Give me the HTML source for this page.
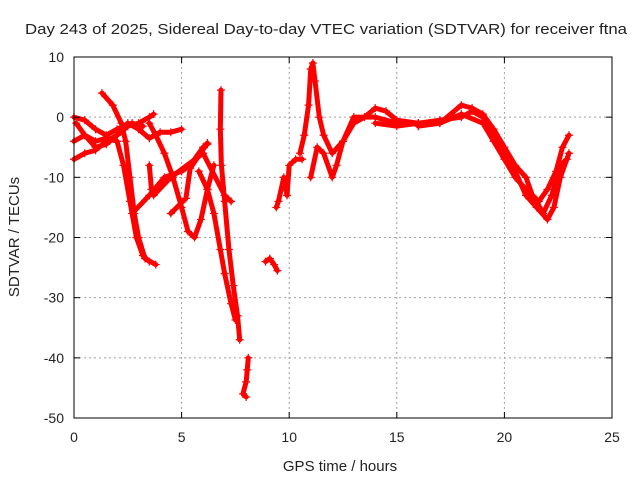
<!DOCTYPE html>
<html><head><meta charset="utf-8"><style>
body{margin:0;background:#fff}
svg text{font-family:"Liberation Sans",sans-serif;font-size:14px;fill:#222}
svg text.big{font-size:15px}
</style></head><body>
<svg width="640" height="480" id="chart" xmlns="http://www.w3.org/2000/svg">
<rect width="640" height="480" fill="#fff"/>
<text class="big" x="326" y="34" text-anchor="middle" textLength="602" lengthAdjust="spacingAndGlyphs">Day 243 of 2025, Sidereal Day-to-day VTEC variation (SDTVAR) for receiver ftna</text>
<text class="big" x="340" y="471" text-anchor="middle">GPS time / hours</text>
<text class="big" transform="translate(19,237) rotate(-90)" text-anchor="middle">SDTVAR / TECUs</text>
<g id="grid"></g><g id="marks"></g><g id="axes"></g>
</svg>
<script>
const xTicks=[0,5,10,15,20,25];
const yTicks=[10,0,-10,-20,-30,-40,-50];
const track1=[[1.3,4],[1.8,2],[2.2,-1],[2.4,-4],[2.6,-10],[2.8,-16],[3.0,-20],[3.3,-23.5],[3.8,-24.5]];
const track2=[[0,-4],[0.5,-3],[1,-4],[1.5,-3.5],[2,-4],[2.3,-8],[2.6,-14],[2.9,-20],[3.2,-23],[3.5,-24]];
const track3=[[0,-7],[0.5,-6],[1,-5.5],[1.5,-4],[2,-3],[2.5,-1.5],[3,-1],[3.5,0],[3.7,0.5]];
const track4=[[0.1,-1],[0.5,-3],[1,-5],[1.5,-4.5],[2,-3],[2.5,-1],[3,-2],[3.5,-3.5],[4,-2.5],[4.5,-2.5],[5,-2]];
const track5=[[0,0],[0.5,-0.5],[1,-2],[1.5,-3],[2,-2],[2.7,-1],[3.2,-1.5]];
const track6=[[3.5,-1],[3.8,-3],[4.2,-6],[4.6,-10],[5,-15],[5.3,-19],[5.6,-20],[5.9,-17],[6.2,-12],[6.5,-8]];
const track7=[[2.7,-16],[3.5,-13],[4.2,-10],[5,-9],[5.4,-8],[6,-5],[6.2,-4.5]];
const track8=[[4.5,-16],[5.2,-13.5],[5.4,-8.5],[6.2,-4.3]];
const track9=[[3.5,-8],[3.6,-12],[3.7,-13],[4.5,-10],[6,-6],[7,-13],[7.3,-14]];
const track10=[[6.83,4.5],[6.8,-2],[6.85,-8],[7,-14],[7.2,-22],[7.4,-28],[7.6,-33],[7.7,-37]];
const track11=[[5.8,-9],[6.2,-12],[6.5,-16],[6.8,-22],[7.0,-26],[7.3,-31],[7.5,-33.7]];
const track12=[[8.1,-40],[8.05,-42],[8,-44],[7.85,-46],[8,-46.5]];
const track13=[[8.9,-24],[9.1,-23.5],[9.3,-24.5],[9.45,-25.5]];
const track14=[[9.4,-15],[9.5,-14],[9.75,-10],[9.9,-13],[10,-8],[10.3,-7],[10.6,-7]];
const track15=[[10.5,-6],[10.7,-3],[10.9,2],[11,8],[11.1,9],[11.2,6],[11.4,0],[11.6,-3],[12,-6],[12.5,-4],[13,-1],[13.5,0],[14,1.5],[14.5,1],[15,-0.5],[16,-1]];
const track16=[[11,-10],[11.3,-5],[11.6,-6],[12,-10],[12.2,-8],[12.5,-4],[13,0],[14,0],[15,-1],[16,-1],[17,-0.5],[18,0],[18.5,1],[19,0],[19.5,-3],[20,-6],[20.5,-9],[21,-13],[21.5,-15],[22,-17],[22.3,-15],[22.6,-10],[23,-6]];
const track17=[[16,-1.5],[17,-1],[18,2],[18.5,1.5],[19,0.5],[19.5,-2],[20,-5],[20.5,-8],[21,-10],[21.3,-13],[21.6,-14],[22,-12],[22.4,-9],[22.7,-5],[23,-3]];
const track18=[[14,-1],[15,-1.5],[16,-1],[17,-1],[18,0.5],[19,-1],[19.5,-4],[20,-7],[20.5,-10],[21,-12],[21.5,-14],[21.8,-16],[22.2,-13],[22.6,-8],[22.9,-7]];
const tracks=[track1,track2,track3,track4,track5,track6,track7,track8,track9,track10,track11,track12,track13,track14,track15,track16,track17,track18];
const NS="http://www.w3.org/2000/svg";
const L=74,R=612,T=57,B=418;
const xs=v=>L+(v-0)/(25-0)*(R-L);
const ys=v=>T+(10-v)/(10+50)*(B-T);
function mk(tag,attrs,parent){const e=document.createElementNS(NS,tag);for(const k in attrs)e.setAttribute(k,attrs[k]);parent.appendChild(e);return e;}
const grid=document.getElementById('grid'),marks=document.getElementById('marks'),axes=document.getElementById('axes');
xTicks.forEach(t=>{
  const x=xs(t);
  if(t>0&&t<25){const g=mk('line',{x1:x,x2:x,y1:T,y2:B,stroke:'#a0a0a0','stroke-dasharray':'2,3'},grid);
  
  }
  mk('line',{x1:x,x2:x,y1:B,y2:B-6,stroke:'#000'},axes);
  mk('line',{x1:x,x2:x,y1:T,y2:T+6,stroke:'#000'},axes);
  const tx=mk('text',{x:x,y:B+24,'text-anchor':'middle'},axes);tx.textContent=t;
  
  
});
yTicks.forEach(t=>{
  const y=ys(t);
  if(t<10&&t>-50){const g=mk('line',{x1:L,x2:R,y1:y,y2:y,stroke:'#a0a0a0','stroke-dasharray':'2,3'},grid);
  
  }
  mk('line',{x1:L,x2:L+6,y1:y,y2:y,stroke:'#000'},axes);
  mk('line',{x1:R,x2:R-6,y1:y,y2:y,stroke:'#000'},axes);
  const tx=mk('text',{x:L-10,y:y+5,'text-anchor':'end'},axes);tx.textContent=t;
  
  
});
const fr=mk('rect',{x:L,y:T,width:R-L,height:B-T,fill:'none',stroke:'#000'},axes);


tracks.forEach(tr=>{
  const g=mk('g',{},marks);
  
  
  mk('polyline',{points:tr.map(p=>xs(p[0])+','+ys(p[1])).join(' '),fill:'none',stroke:'#f00','stroke-width':5,'stroke-linejoin':'round','stroke-linecap':'round'},g);
  tr.forEach(p=>{const x=xs(p[0]),y=ys(p[1]);
    mk('path',{d:`M${x-4},${y}H${x+4}M${x},${y-4}V${y+4}`,stroke:'#f00','stroke-width':1.2},g);});
});
</script>
</body></html>
